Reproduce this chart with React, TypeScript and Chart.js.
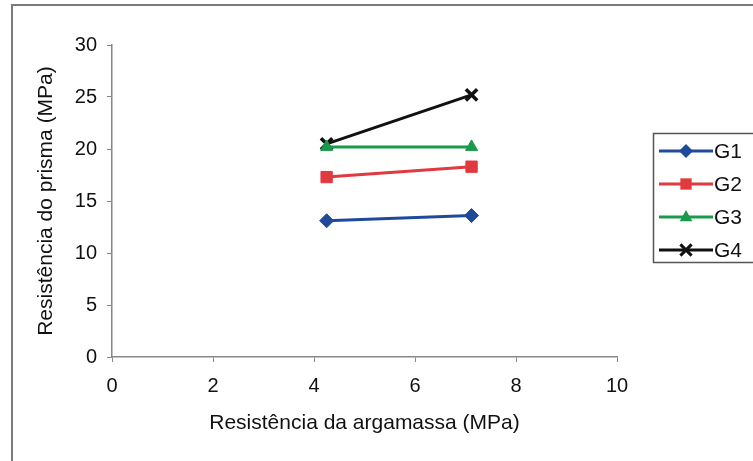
import React, { useEffect, useRef } from "react";
import { Chart, registerables } from "chart.js";

Chart.register(...registerables);

// ---- data ----
const seriesNames = ["G1", "G2", "G3", "G4"];
const mortarStrength = [4.25, 7.12]; // x values (MPa)
const g1Values = [13.1, 13.6];
const g2Values = [17.3, 18.3];
const g3Values = [20.2, 20.2];
const g4Values = [20.5, 25.2];
const xTickValues = [0, 2, 4, 6, 8, 10];
const yTickValues = [0, 5, 10, 15, 20, 25, 30];
const xTitle = "Resistência da argamassa (MPa)";
const yTitle = "Resistência do prisma (MPa)";

const seriesValues = [g1Values, g2Values, g3Values, g4Values];
const seriesColors = ["#1f4a9c", "#e0393f", "#1b9a4b", "#111111"];
const seriesPointStyles = ["rectRot", "rect", "triangle", "crossRot"];
const seriesPointRadius = [7, 8, 7, 8];

const FONT = "'Liberation Sans', Arial, sans-serif";

function drawMarker(ctx: CanvasRenderingContext2D, style: string, x: number, y: number, r: number, color: string) {
  ctx.save();
  ctx.fillStyle = color;
  ctx.strokeStyle = color;
  ctx.lineWidth = 3;
  ctx.beginPath();
  if (style === "rectRot") {
    ctx.moveTo(x, y - r);
    ctx.lineTo(x + r, y);
    ctx.lineTo(x, y + r);
    ctx.lineTo(x - r, y);
    ctx.closePath();
    ctx.fill();
  } else if (style === "rect") {
    const s = r * Math.SQRT1_2;
    ctx.rect(x - s, y - s, 2 * s, 2 * s);
    ctx.fill();
  } else if (style === "triangle") {
    ctx.moveTo(x, y - r);
    ctx.lineTo(x + r * 0.9, y + r * 0.6);
    ctx.lineTo(x - r * 0.9, y + r * 0.6);
    ctx.closePath();
    ctx.fill();
  } else {
    const d = r * 0.7;
    ctx.moveTo(x - d, y - d);
    ctx.lineTo(x + d, y + d);
    ctx.moveTo(x + d, y - d);
    ctx.lineTo(x - d, y + d);
    ctx.stroke();
  }
  ctx.restore();
}

const frameAndLegend = {
  id: "frameAndLegend",
  afterDraw(chart: any) {
    const ctx: CanvasRenderingContext2D = chart.ctx;
    ctx.save();
    // outer frame
    ctx.strokeStyle = "#7a7a7a";
    ctx.lineWidth = 2;
    ctx.strokeRect(12, 5, 760, 470);
    // legend box
    ctx.lineWidth = 1.5;
    ctx.strokeStyle = "#555555";
    ctx.strokeRect(653.5, 133.5, 110, 129);
    const rowY0 = 151;
    const rowGap = 33;
    chart.data.datasets.forEach((ds: any, i: number) => {
      const y = rowY0 + i * rowGap;
      ctx.strokeStyle = ds.borderColor;
      ctx.lineWidth = 3;
      ctx.beginPath();
      ctx.moveTo(659, y);
      ctx.lineTo(713, y);
      ctx.stroke();
      drawMarker(ctx, ds.pointStyle, 686, y, ds.pointRadius, ds.borderColor);
      ctx.fillStyle = "#111111";
      ctx.font = `21px ${FONT}`;
      ctx.textAlign = "left";
      ctx.textBaseline = "middle";
      ctx.fillText(ds.label, 714, y + 1);
    });
    ctx.restore();
  },
};

export default function App() {
  const canvasRef = useRef<HTMLCanvasElement | null>(null);

  useEffect(() => {
    const canvas = canvasRef.current;
    if (!canvas) return;
    const datasets = seriesNames.map((name, i) => ({
      label: name,
      data: mortarStrength.map((x, j) => ({ x, y: seriesValues[i][j] })),
      borderColor: seriesColors[i],
      backgroundColor: seriesColors[i],
      borderWidth: 3,
      pointStyle: seriesPointStyles[i],
      pointRadius: seriesPointRadius[i],
      pointBorderWidth: i === 3 ? 3.5 : 1,
      pointBackgroundColor: seriesColors[i],
      pointBorderColor: seriesColors[i],
      showLine: true,
      tension: 0,
    }));

    const chart = new Chart(canvas, {
      type: "scatter",
      data: { datasets } as any,
      options: {
        animation: false,
        responsive: false,
        devicePixelRatio: 1,
        layout: { padding: { left: 0, top: 45, right: 136, bottom: 0 } },
        plugins: {
          legend: { display: false },
          tooltip: { enabled: false },
        },
        scales: {
          x: {
            type: "linear",
            min: 0,
            max: 10,
            afterBuildTicks: (scale: any) => {
              scale.ticks = xTickValues.map((v) => ({ value: v }));
            },
            afterFit: (scale: any) => {
              scale.height = 104;
            },
            ticks: {
              color: "#111111",
              font: { family: FONT, size: 20 },
              padding: 12,
              maxRotation: 0,
            },
            grid: {
              drawOnChartArea: false,
              drawTicks: true,
              tickLength: 5,
              color: "#888888",
              lineWidth: 1,
            },
            border: { display: true, color: "#888888", width: 1.5 },
            title: {
              display: true,
              text: xTitle,
              color: "#111111",
              font: { family: FONT, size: 21 },
              padding: { top: 0, bottom: 25 },
            },
          },
          y: {
            type: "linear",
            min: 0,
            max: 30,
            afterBuildTicks: (scale: any) => {
              scale.ticks = yTickValues.map((v) => ({ value: v }));
            },
            afterFit: (scale: any) => {
              scale.width = 112;
            },
            ticks: {
              color: "#111111",
              font: { family: FONT, size: 20 },
              padding: 10,
            },
            grid: {
              drawOnChartArea: false,
              drawTicks: true,
              tickLength: 5,
              color: "#888888",
              lineWidth: 1,
            },
            border: { display: true, color: "#888888", width: 1.5 },
            title: {
              display: true,
              text: yTitle,
              color: "#111111",
              font: { family: FONT, size: 21 },
              padding: { top: 34, bottom: 0 },
            },
          },
        },
      } as any,
      plugins: [frameAndLegend],
    });
    return () => chart.destroy();
  }, []);

  return (
    <div style={{ position: "absolute", left: 0, top: 0, width: 753, height: 461, background: "#ffffff" }}>
      <canvas ref={canvasRef} width={753} height={461} style={{ display: "block", width: 753, height: 461 }} />
    </div>
  );
}
